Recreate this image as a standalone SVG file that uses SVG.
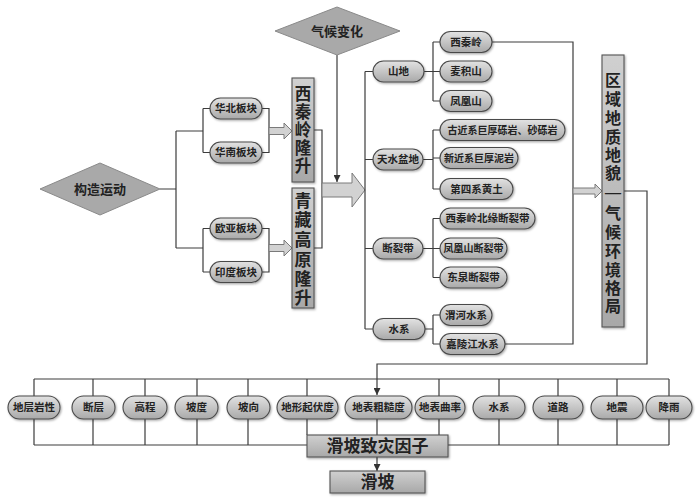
<svg xmlns="http://www.w3.org/2000/svg" width="700" height="498" viewBox="0 0 700 498">
<defs>
<linearGradient id="gp" x1="0" y1="0" x2="0" y2="1">
<stop offset="0" stop-color="#e2e2e2"/><stop offset="1" stop-color="#a9a9a9"/>
</linearGradient>
<linearGradient id="gb" x1="0" y1="0" x2="0" y2="1">
<stop offset="0" stop-color="#d0d0d0"/><stop offset="1" stop-color="#a8a8a8"/>
</linearGradient>
<filter id="sh" x="-10%" y="-10%" width="130%" height="140%">
<feDropShadow dx="1" dy="1.2" stdDeviation="0.8" flood-color="#000" flood-opacity="0.35"/>
</filter>
<marker id="ah" viewBox="0 0 10 10" refX="10" refY="5" markerWidth="7" markerHeight="7" markerUnits="userSpaceOnUse" orient="auto">
<path d="M0,0 L10,5 L0,10 Z" fill="#333"/>
</marker>
<style>
.pill{fill:url(#gp);stroke:#4a4a4a;stroke-width:1.1;filter:url(#sh)}
.box{fill:url(#gb);stroke:#555;stroke-width:1.1;filter:url(#sh)}
.dia{fill:#a9a9a9;stroke:#8a8a8a;stroke-width:1}
.fat{fill:#d2d2d2;stroke:#7a7a7a;stroke-width:1}
.ln{fill:none;stroke:#3c3c3c;stroke-width:1.2}
.t{font-family:"Liberation Serif","Noto Sans CJK SC",serif;font-weight:bold;fill:#222;text-anchor:middle;dominant-baseline:central}
.s{font-size:10.5px}
.r{font-size:10px}
.m{font-size:13px}
.v{font-size:16.5px}
.u{font-size:16px}
.w{font-size:17px}
</style>
</defs>

<g id="connectors">
<path class="ln" d="M160,189 H176 M176,131 V248 M176,131 H203 M176,248 H203"/>
<path class="ln" d="M203,108.5 V152.5 M203,108.5 H210 M203,152.5 H210"/>
<path class="ln" d="M203,228.5 V272 M203,228.5 H210 M203,272 H210"/>
<path class="ln" d="M262,108.5 H269 V152.5 H262 M262,228.5 H269 V272 H262"/>
<path class="fat" d="M269,127.5 H284 V123 L292,131 L284,139 V134.5 H269 Z"/>
<path class="fat" d="M269,244.5 H284 V240 L292,248 L284,256 V251.5 H269 Z"/>
<path class="ln" d="M314,130 H322 V248 H314"/>
<path class="fat" d="M322,183 H352 V173 L365,190 L352,207 V197 H322 Z"/>
<path class="ln" d="M337,55 V182" marker-end="url(#ah)"/>
<path class="ln" d="M365,71.5 V329 M365,71.5 H373 M365,159.5 H373 M365,248.5 H373 M365,329 H373"/>
<path class="ln" d="M424,71.5 H433 M433,42 V101 M433,42 H440 M433,71.5 H440 M433,101 H440"/>
<path class="ln" d="M423,159.5 H433 M433,130 V189 M433,130 H440 M433,158 H440 M433,189 H440"/>
<path class="ln" d="M423,248.5 H433 M433,218.5 V277.5 M433,218.5 H440 M433,248.5 H440 M433,277.5 H440"/>
<path class="ln" d="M425,329 H433 M433,315 V344 M433,315 H440 M433,344 H440"/>
<path class="ln" d="M492,42 H573 V344 H505"/>
<path class="fat" d="M573,188 H595 V184 L602,191 L595,198 V194 H573 Z"/>
<path class="ln" d="M624,191 H647 V364 H377 V395" marker-end="url(#ah)"/>
<path class="ln" d="M34,379 H669"/>
<path class="ln" d="M34,379 V396 M93,379 V396 M145,379 V396 M197,379 V396 M248,379 V396 M307,379 V396 M439,379 V396 M499,379 V396 M558,379 V396 M617,379 V396 M669,379 V396"/>
<path class="ln" d="M34,419 V445 M93,419 V445 M145,419 V445 M197,419 V445 M248,419 V445 M499,419 V445 M558,419 V445 M617,419 V445 M669,419 V445"/>
<path class="ln" d="M307,419 V435 M377,419 V435 M439,419 V435"/>
<path class="ln" d="M34,445 H307 M448,445 H669"/>
<path class="ln" d="M377,457 V471" marker-end="url(#ah)"/>
</g>

<g id="n-gouzao"><polygon class="dia" points="40,189 100,163 160,189 100,215"/><text class="t m" x="100" y="189">构造运动</text></g>
<g id="n-qihou"><polygon class="dia" points="275,31 337,7 400,31 337,55"/><text class="t m" x="337" y="31">气候变化</text></g>

<g id="n-huabei"><rect class="pill" x="210" y="98" width="52" height="21" rx="10.5"/><text class="t s" x="236" y="108.5">华北板块</text></g>
<g id="n-huanan"><rect class="pill" x="210" y="142" width="52" height="21" rx="10.5"/><text class="t s" x="236" y="152.5">华南板块</text></g>
<g id="n-ouya"><rect class="pill" x="210" y="218" width="52" height="21" rx="10.5"/><text class="t s" x="236" y="228.5">欧亚板块</text></g>
<g id="n-yindu"><rect class="pill" x="210" y="261.5" width="52" height="21" rx="10.5"/><text class="t s" x="236" y="272">印度板块</text></g>

<g id="n-xqlls"><rect class="box" x="292" y="78" width="22" height="104"/>
<text class="t v" x="303"><tspan x="303" y="94">西</tspan><tspan x="303" y="112">秦</tspan><tspan x="303" y="130">岭</tspan><tspan x="303" y="148">隆</tspan><tspan x="303" y="166">升</tspan></text></g>
<g id="n-qzgyls"><rect class="box" x="292" y="188" width="22" height="120"/>
<text class="t w" x="303"><tspan x="303" y="201">青</tspan><tspan x="303" y="220">藏</tspan><tspan x="303" y="240">高</tspan><tspan x="303" y="260">原</tspan><tspan x="303" y="279">隆</tspan><tspan x="303" y="298">升</tspan></text></g>

<g id="n-shandi"><rect class="pill" x="373" y="61" width="51" height="21" rx="10.5"/><text class="t s" x="398.5" y="71.5">山地</text></g>
<g id="n-xiqinling"><rect class="pill" x="440" y="31.5" width="52" height="21" rx="10.5"/><text class="t s" x="466" y="42">西秦岭</text></g>
<g id="n-maijishan"><rect class="pill" x="440" y="61" width="52" height="21" rx="10.5"/><text class="t s" x="466" y="71.5">麦积山</text></g>
<g id="n-fenghuangshan"><rect class="pill" x="440" y="90.5" width="52" height="21" rx="10.5"/><text class="t s" x="466" y="101">凤凰山</text></g>

<g id="n-tianshui"><rect class="pill" x="373" y="149" width="50" height="21" rx="10.5"/><text class="t s" x="398" y="159.5">天水盆地</text></g>
<g id="n-gujinxi"><rect class="pill" x="440" y="119.5" width="125" height="21" rx="10.5"/><text class="t r" x="502.5" y="130">古近系巨厚砾岩、砂砾岩</text></g>
<g id="n-xinjinxi"><rect class="pill" x="440" y="147.5" width="78" height="21" rx="10.5"/><text class="t r" x="479" y="158">新近系巨厚泥岩</text></g>
<g id="n-disixi"><rect class="pill" x="440" y="178.5" width="73" height="21" rx="10.5"/><text class="t s" x="476.5" y="189">第四系黄土</text></g>

<g id="n-duanliedai"><rect class="pill" x="373" y="238" width="50" height="21" rx="10.5"/><text class="t s" x="398" y="248.5">断裂带</text></g>
<g id="n-xqlbydld"><rect class="pill" x="440" y="208" width="95" height="21" rx="10.5"/><text class="t s" x="487.5" y="218.5">西秦岭北缘断裂带</text></g>
<g id="n-fhsdld"><rect class="pill" x="440" y="238" width="67" height="21" rx="10.5"/><text class="t r" x="473.5" y="248.5">凤凰山断裂带</text></g>
<g id="n-dqdld"><rect class="pill" x="440" y="267" width="67" height="21" rx="10.5"/><text class="t s" x="473.5" y="277.5">东泉断裂带</text></g>

<g id="n-shuixi"><rect class="pill" x="373" y="318.5" width="52" height="21" rx="10.5"/><text class="t s" x="399" y="329">水系</text></g>
<g id="n-weihe"><rect class="pill" x="440" y="304.5" width="52" height="21" rx="10.5"/><text class="t s" x="466" y="315">渭河水系</text></g>
<g id="n-jialingjiang"><rect class="pill" x="440" y="333.5" width="65" height="21" rx="10.5"/><text class="t s" x="472.5" y="344">嘉陵江水系</text></g>

<g id="n-quyu"><rect class="box" x="602" y="55" width="22" height="272"/>
<text class="t u" x="613"><tspan x="613" y="80">区</tspan><tspan x="613" y="99">域</tspan><tspan x="613" y="118">地</tspan><tspan x="613" y="137">质</tspan><tspan x="613" y="155">地</tspan><tspan x="613" y="173">貌</tspan><tspan x="613" y="192">—</tspan><tspan x="613" y="213">气</tspan><tspan x="613" y="232">候</tspan><tspan x="613" y="251">环</tspan><tspan x="613" y="270">境</tspan><tspan x="613" y="288">格</tspan><tspan x="613" y="306">局</tspan></text></g>

<g id="n-dcyx"><rect class="pill" x="8" y="396" width="52" height="23" rx="11.5"/><text class="t s" x="34" y="407.5">地层岩性</text></g>
<g id="n-dc"><rect class="pill" x="72" y="396" width="43" height="23" rx="11.5"/><text class="t s" x="93.5" y="407.5">断层</text></g>
<g id="n-gc"><rect class="pill" x="123" y="396" width="44" height="23" rx="11.5"/><text class="t s" x="145" y="407.5">高程</text></g>
<g id="n-pd"><rect class="pill" x="175" y="396" width="43" height="23" rx="11.5"/><text class="t s" x="196.5" y="407.5">坡度</text></g>
<g id="n-px"><rect class="pill" x="227" y="396" width="43" height="23" rx="11.5"/><text class="t s" x="248.5" y="407.5">坡向</text></g>
<g id="n-dxqfd"><rect class="pill" x="277" y="396" width="61" height="23" rx="11.5"/><text class="t s" x="307.5" y="407.5">地形起伏度</text></g>
<g id="n-dbccd"><rect class="pill" x="345" y="396" width="67" height="23" rx="11.5"/><text class="t s" x="378.5" y="407.5">地表粗糙度</text></g>
<g id="n-dbql"><rect class="pill" x="415" y="396" width="50" height="23" rx="11.5"/><text class="t s" x="440" y="407.5">地表曲率</text></g>
<g id="n-sx2"><rect class="pill" x="473" y="396" width="52" height="23" rx="11.5"/><text class="t s" x="499" y="407.5">水系</text></g>
<g id="n-dl"><rect class="pill" x="533" y="396" width="50" height="23" rx="11.5"/><text class="t s" x="558" y="407.5">道路</text></g>
<g id="n-dz"><rect class="pill" x="591" y="396" width="52" height="23" rx="11.5"/><text class="t s" x="617" y="407.5">地震</text></g>
<g id="n-jy"><rect class="pill" x="646" y="396" width="46" height="23" rx="11.5"/><text class="t s" x="669" y="407.5">降雨</text></g>

<g id="n-zzyz"><rect class="box" x="307" y="435" width="141" height="22"/><text class="t w" x="377.5" y="446">滑坡致灾因子</text></g>
<g id="n-huapo"><rect class="box" x="330" y="471" width="95" height="22"/><text class="t w" x="377.5" y="482">滑坡</text></g>
</svg>
